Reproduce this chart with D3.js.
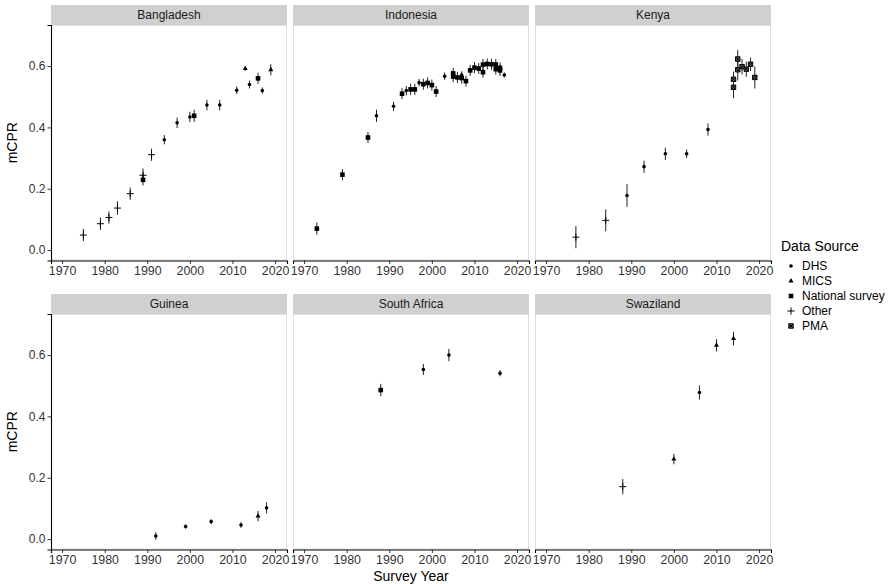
<!DOCTYPE html>
<html>
<head>
<meta charset="utf-8">
<script src="https://cdn.jsdelivr.net/npm/d3@7/dist/d3.min.js"></script>
<style>
  body { margin: 0; background: #fff; }
  text { font-family: "Liberation Sans", Arial, sans-serif; }
</style>
</head>
<body>
<svg id="chart" width="895" height="584"></svg>
<script>
// [year, mCPR, source, half-width of error bar]
const bangladesh = [
  [1975, 0.049, "Other", 0.02], [1979, 0.086, "Other", 0.02], [1981, 0.106, "Other", 0.02],
  [1983, 0.137, "Other", 0.022], [1986, 0.184, "Other", 0.02], [1989, 0.244, "Other", 0.022],
  [1989, 0.229, "National survey", 0.018], [1991, 0.311, "Other", 0.02], [1994, 0.36, "DHS", 0.015],
  [1997, 0.415, "DHS", 0.017], [2000, 0.434, "DHS", 0.017], [2001, 0.438, "National survey", 0.02],
  [2004, 0.473, "DHS", 0.017], [2007, 0.473, "DHS", 0.017], [2011, 0.521, "DHS", 0.012],
  [2013, 0.592, "MICS", 0.007], [2014, 0.54, "DHS", 0.013], [2016, 0.56, "National survey", 0.018],
  [2017, 0.52, "DHS", 0.01], [2019, 0.588, "MICS", 0.018]
];
const indonesia = [
  [1973, 0.07, "National survey", 0.02], [1979, 0.246, "National survey", 0.018],
  [1985, 0.367, "National survey", 0.018], [1987, 0.438, "DHS", 0.02], [1991, 0.469, "DHS", 0.015],
  [1993, 0.51, "National survey", 0.018], [1994, 0.52, "DHS", 0.015], [1995, 0.524, "National survey", 0.018],
  [1996, 0.524, "National survey", 0.018], [1997, 0.546, "DHS", 0.012], [1998, 0.541, "National survey", 0.018],
  [1999, 0.545, "National survey", 0.018], [2000, 0.538, "National survey", 0.018],
  [2001, 0.517, "National survey", 0.018], [2003, 0.567, "DHS", 0.012], [2005, 0.576, "National survey", 0.018],
  [2005, 0.566, "National survey", 0.018], [2006, 0.563, "National survey", 0.018], [2007, 0.571, "DHS", 0.012],
  [2007, 0.561, "National survey", 0.018], [2008, 0.551, "National survey", 0.018],
  [2009, 0.586, "National survey", 0.018], [2010, 0.595, "National survey", 0.018],
  [2011, 0.592, "National survey", 0.018], [2012, 0.605, "National survey", 0.018],
  [2012, 0.58, "National survey", 0.018], [2013, 0.607, "National survey", 0.018],
  [2014, 0.606, "National survey", 0.018], [2015, 0.605, "National survey", 0.018],
  [2015, 0.59, "National survey", 0.018], [2016, 0.594, "National survey", 0.018],
  [2016, 0.586, "National survey", 0.018], [2017, 0.571, "DHS", 0.008]
];
const kenya = [
  [1977, 0.042, "Other", 0.036], [1984, 0.097, "Other", 0.036], [1989, 0.178, "DHS", 0.037],
  [1993, 0.272, "DHS", 0.02], [1998, 0.314, "DHS", 0.02], [2003, 0.314, "DHS", 0.014],
  [2008, 0.393, "DHS", 0.02], [2014, 0.531, "PMA", 0.036], [2014, 0.557, "PMA", 0.025],
  [2015, 0.623, "PMA", 0.03], [2015, 0.588, "PMA", 0.035], [2016, 0.598, "PMA", 0.025],
  [2017, 0.59, "PMA", 0.025], [2018, 0.606, "PMA", 0.022], [2019, 0.563, "PMA", 0.036]
];
const guinea = [
  [1992, 0.01, "DHS", 0.012], [1999, 0.041, "DHS", 0.007], [2005, 0.057, "DHS", 0.008],
  [2012, 0.046, "DHS", 0.009], [2016, 0.075, "MICS", 0.017], [2018, 0.102, "DHS", 0.018]
];
const southAfrica = [
  [1988, 0.486, "National survey", 0.02], [1998, 0.553, "DHS", 0.018],
  [2004, 0.6, "DHS", 0.02], [2016, 0.541, "DHS", 0.01]
];
const swaziland = [
  [1988, 0.171, "Other", 0.025], [2000, 0.261, "MICS", 0.017], [2006, 0.478, "DHS", 0.023],
  [2010, 0.632, "MICS", 0.02], [2014, 0.654, "MICS", 0.022]
];

const countries = ["Bangladesh", "Indonesia", "Kenya", "Guinea", "South Africa", "Swaziland"];
const countryData = [bangladesh, indonesia, kenya, guinea, southAfrica, swaziland];
const sources = ["DHS", "MICS", "National survey", "Other", "PMA"];
const xTicks = [1970, 1980, 1990, 2000, 2010, 2020];
const yTicks = [0.0, 0.2, 0.4, 0.6];

const svg = d3.select('#chart');
svg.append('rect').attr('width', 895).attr('height', 584).attr('fill', '#fff');

const panelW = 236, panelH = 235.5, stripH = 20;
const colX = [51, 293, 535];
const rowY = [25, 314];

const x = d3.scaleLinear().domain([1967.4, 2022.8]).range([0, panelW]);
const y = d3.scaleLinear().domain([-0.034, 0.734]).range([panelH, 0]);

// draws one marker of the given source type into g
function drawShape(g, src, cx, cy) {
  if (src === 'DHS') {
    g.append('circle').attr('cx', cx).attr('cy', cy).attr('r', 1.8).attr('fill', '#000');
  } else if (src === 'MICS') {
    g.append('path')
      .attr('d', d3.symbol().type(d3.symbolTriangle).size(11)())
      .attr('transform', `translate(${cx},${cy})`)
      .attr('fill', '#000');
  } else if (src === 'National survey') {
    g.append('rect').attr('x', cx - 2.3).attr('y', cy - 2.3)
      .attr('width', 4.6).attr('height', 4.6).attr('fill', '#000');
  } else if (src === 'Other') {
    g.append('path')
      .attr('d', `M${cx - 3.5},${cy}H${cx + 3.5}M${cx},${cy - 3.5}V${cy + 3.5}`)
      .attr('stroke', '#000').attr('stroke-width', 1);
  } else if (src === 'PMA') {
    const s = 2.2;
    g.append('path')
      .attr('d', `M${cx - s},${cy - s}H${cx + s}V${cy + s}H${cx - s}Z M${cx - s},${cy - s}L${cx + s},${cy + s}M${cx + s},${cy - s}L${cx - s},${cy + s}`)
      .attr('fill', '#666').attr('stroke', '#000').attr('stroke-width', 1);
  }
}

countries.forEach((name, i) => {
  const col = i % 3, row = Math.floor(i / 3);
  const g = svg.append('g').attr('transform', `translate(${colX[col]},${rowY[row]})`);

  // strip
  g.append('rect').attr('x', 0).attr('y', -stripH).attr('width', panelW).attr('height', stripH)
    .attr('fill', '#d0d0d0');
  g.append('text').attr('x', panelW / 2).attr('y', -stripH / 2).attr('dy', '0.35em')
    .attr('text-anchor', 'middle').style('font-size', '12px').attr('fill', '#1a1a1a').text(name);

  // panel border
  g.append('rect').attr('x', 0.5).attr('y', 0.5).attr('width', panelW - 1).attr('height', panelH - 1)
    .attr('fill', 'none').attr('stroke', '#dedede').attr('stroke-width', 1);

  // x axis
  const xa = g.append('g').attr('transform', `translate(0,${panelH})`)
    .call(d3.axisBottom(x).tickValues(xTicks).tickFormat(d3.format('d')).tickSize(3.5).tickPadding(2));
  xa.select('.domain').attr('stroke', '#000').attr('stroke-width', 1.1);
  xa.selectAll('line').attr('stroke', '#333');
  xa.selectAll('text').style('font-size', '12.4px').attr('fill', '#333')
    .style('font-family', '"Liberation Sans", Arial, sans-serif');

  if (col === 0) {
    const ya = g.append('g')
      .call(d3.axisLeft(y).tickValues(yTicks).tickFormat(d3.format('.1f')).tickSize(3.5).tickPadding(2));
    ya.select('.domain').attr('stroke', '#000').attr('stroke-width', 1.1);
    ya.selectAll('line').attr('stroke', '#333');
    ya.selectAll('text').style('font-size', '12px').attr('fill', '#333')
      .style('font-family', '"Liberation Sans", Arial, sans-serif');
  }

  const data = countryData[i];
  // error bars
  g.selectAll('.err').data(data).join('line').attr('class', 'err')
    .attr('x1', d => x(d[0])).attr('x2', d => x(d[0]))
    .attr('y1', d => y(d[1] - d[3])).attr('y2', d => y(d[1] + d[3]))
    .attr('stroke', '#222').attr('stroke-width', 1);
  // markers
  const pts = g.append('g');
  data.forEach(d => drawShape(pts, d[2], x(d[0]), y(d[1])));
});

// axis titles
svg.append('text').attr('x', colX[1] + panelW / 2).attr('y', 581).attr('text-anchor', 'middle')
  .style('font-size', '14px').attr('fill', '#000').text('Survey Year');
rowY.forEach(r => {
  svg.append('text').attr('transform', `translate(17,${r + panelH / 2}) rotate(-90)`)
    .attr('text-anchor', 'middle').style('font-size', '14px').attr('fill', '#000').text('mCPR');
});

// legend
const leg = svg.append('g').attr('transform', 'translate(781,246)');
leg.append('text').attr('x', 0).attr('y', 0).attr('dy', '0.35em').style('font-size', '14px')
  .attr('fill', '#000').text('Data Source');
sources.forEach((s, k) => {
  const yy = 20 + k * 15;
  drawShape(leg, s, 10, yy);
  leg.append('text').attr('x', 21).attr('y', yy).attr('dy', '0.35em').style('font-size', '12px')
    .attr('fill', '#000').text(s);
});
</script>
</body>
</html>
